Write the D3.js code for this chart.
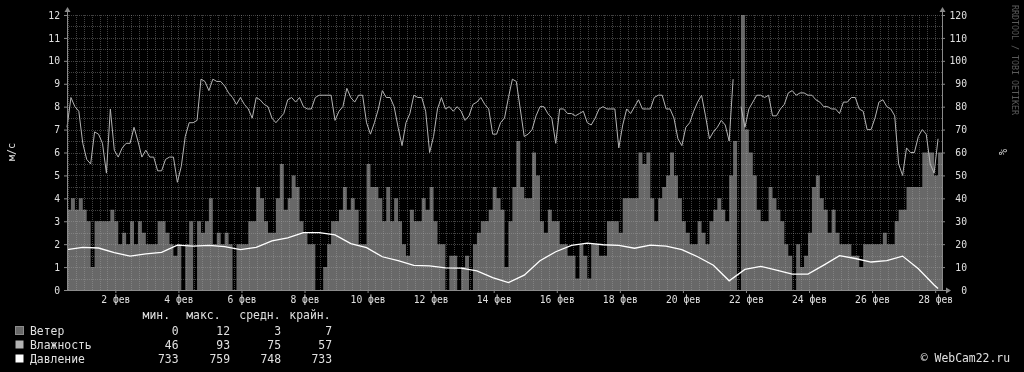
<!DOCTYPE html>
<html>
<head>
<meta charset="utf-8">
<script src="https://cdn.jsdelivr.net/npm/d3@7"></script>
<style>
body { margin: 0; background: #000; }
svg { will-change: transform; }
svg text { font-family: "DejaVu Sans Mono", monospace; }
</style>
</head>
<body>
<svg id="chart" width="1024" height="372"></svg>
<script>
// samples every 3 hours starting 31 jan 11:12
var start = new Date(2013, 0, 31, 11, 12),
	stepH = 3,
	pressureStepH = 12;

// wind, m/s
var wind = [
	3.5, 4, 3.5, 4, 3.5, 3, 1, 3, 3, 3, 3, 3.5, 3, 2, 2.5, 2, 3, 2, 3, 2.5, 2, 2, 2, 3, 3, 2.5, 2, 1.5, 2, 0, 2, 3, 0, 3, 2.5, 3, 4,
	2, 2.5, 2, 2.5, 2, 0, 2, 2, 2, 3, 3, 4.5, 4, 3, 2.5, 2.5, 4, 5.5, 3.5, 4, 5, 4.5, 3, 2.5, 2, 2, 0, 0, 1, 2, 3, 3, 3.5, 4.5, 3.5, 4, 3.5,
	2, 2, 5.5, 4.5, 4.5, 4, 3, 4.5, 3, 4, 3, 2, 1.5, 3.5, 3, 3, 4, 3.5, 4.5, 3, 2, 2, 0, 1.5, 1.5, 0, 1, 1.5, 0, 2, 2.5, 3, 3, 3.5, 4.5, 4, 3.5,
	1, 3, 4.5, 6.5, 4.5, 4, 4, 6, 5, 3, 2.5, 3.5, 3, 3, 2, 2, 1.5, 1.5, 0.5, 2, 1.5, 0.5, 2, 2, 1.5, 1.5, 3, 3, 3, 2.5, 4, 4, 4, 4, 6, 5.5,
	6, 4, 3, 4, 4.5, 5, 6, 5, 4, 3, 2.5, 2, 2, 3, 2.5, 2, 3, 3.5, 4, 3.5, 3, 5, 6.5, 0, 12, 7, 6, 5, 3.5, 3, 3, 4.5, 4, 3.5, 3, 2, 1.5,
	0, 2, 1, 1.5, 2.5, 4.5, 5, 4, 3.5, 2.5, 3.5, 2.5, 2, 2, 2, 1.5, 1.5, 1, 2, 2, 2, 2, 2, 2.5, 2, 2, 3, 3.5, 3.5, 4.5, 4.5, 4.5, 4.5, 6, 6, 6, 5, 6
];

// humidity, %
var humidity = [
	71, 84, 80, 78, 64, 57, 55, 69, 68, 64, 51, 79, 61, 58, 62, 64, 64, 71, 65, 58, 61, 58, 58, 52, 52, 57, 58, 58, 47, 54, 67, 73, 73, 74, 92, 91, 87,
	92, 91, 91, 89, 86, 84, 81, 84, 81, 79, 75, 84, 83, 81, 80, 75, 73, 75, 77, 83, 84, 82, 84, 80, 79, 79, 84, 85, 85, 85, 85, 74, 78, 80, 88, 84, 82,
	85, 85, 73, 68, 73, 79, 87, 84, 84, 80, 71, 63, 73, 77, 85, 84, 84, 78, 60, 67, 79, 84, 79, 80, 78, 80, 78, 74, 76, 81, 82, 84, 81, 79, 68, 68, 73,
	75, 84, 92, 91, 79, 67, 68, 70, 76, 80, 80, 77, 75, 64, 79, 79, 77, 77, 76, 77, 78, 73, 72, 75, 79, 80, 79, 79, 79, 62, 72, 79, 77, 80, 83, 79,
	79, 79, 84, 85, 85, 79, 79, 75, 66, 63, 71, 73, 78, 82, 85, 76, 66, 69, 71, 74, 72, 65, 92, null, 80, 71, 79, 82, 85, 85, 84, 85, 76, 76, 79, 81, 86,
	87, 85, 86, 86, 85, 85, 83, 82, 80, 80, 79, 79, 77, 82, 82, 84, 84, 79, 78, 70, 70, 75, 82, 83, 80, 79, 76, 55, 50, 62, 60, 60, 67, 70, 68, 55, 51, 66
];

// pressure, mm Hg, every 12 hours, and the last reading
var pressure = [
	750.8, 751.8, 751.5, 749.4, 747.8, 748.8, 749.5, 752.8, 752.4, 752.7, 752.1, 750.8, 751.8, 754.8,
	756.1, 758.5, 758.5, 757.5, 753.5, 751.7, 747.5, 745.7, 743.6, 743.3, 742.4, 742.3, 741.0, 738.0,
	735.7, 739.1, 745.7, 749.8, 752.7, 753.7, 753.0, 752.7, 751.4, 752.8, 752.4, 750.8, 747.5, 743.6,
	736.5, 741.7, 743.1, 741.4, 739.6, 739.6, 743.7, 748.0, 746.7, 745.1, 745.7, 747.8, 742.0, 734.6
];
var pressureLast = 733.0;

var tickDays = [2, 4, 6, 8, 10, 12, 14, 16, 18, 20, 22, 24, 26, 28];
var seriesNames = ["Ветер", "Влажность", "Давление"];
var statNames = ["мин.", "макс.", "средн.", "крайн."];
var stats = [
	["0", "12", "3", "7"],
	["46", "93", "75", "57"],
	["733", "759", "748", "733"]
];

var hour = 3600 * 1000;
function at(h) { return new Date(start.getTime() + h * hour); }
var end = at(wind.length * stepH);

var svg = d3.select("#chart");
var plotL = 67, plotR = 942, plotT = 15, plotB = 290;

var x = d3.scaleTime().domain([start, end]).range([plotL, plotR]);
var y = d3.scaleLinear().domain([0, 12]).range([plotB, plotT]);
var yHum = d3.scaleLinear().domain([0, 120]).range([plotB, plotT]);
var pScale = d3.scaleLinear().domain([732.3, 758.5]).range([0, 2.5]);

var windPts = wind.map(function(v, i) { return {t: at(i * stepH), v: v}; });
windPts.push({t: end, v: wind[wind.length - 1]});
var humPts = humidity.map(function(v, i) { return {t: at(i * stepH), v: v}; });
var presPts = pressure.map(function(v, i) { return {t: at(i * pressureStepH), v: v}; });
presPts.push({t: at((wind.length - 1) * stepH), v: pressureLast});

var colors = ["#686868", "#b4b4b4", "#ffffff"];

// wind area
svg.append("path")
	.datum(windPts)
	.attr("fill", colors[0])
	.attr("d", d3.area()
		.curve(d3.curveStepAfter)
		.x(function(d) { return x(d.t); })
		.y0(plotB)
		.y1(function(d) { return y(d.v); }));

// grid
var grid = svg.append("g")
	.attr("stroke", "rgba(170,170,170,0.38)")
	.attr("stroke-dasharray", "1,1")
	.attr("shape-rendering", "crispEdges");
grid.selectAll(".h")
	.data(d3.range(0.5, 12.01, 0.5))
	.enter().append("line")
	.attr("x1", plotL).attr("x2", plotR)
	.attr("y1", function(d) { return Math.round(y(d)) + 0.5; })
	.attr("y2", function(d) { return Math.round(y(d)) + 0.5; });
grid.selectAll(".v")
	.data(d3.timeHour.every(6).range(start, end).filter(function(d) { return x(d) > plotL + 1; }))
	.enter().append("line")
	.attr("y1", plotT).attr("y2", plotB)
	.attr("x1", function(d) { return Math.round(x(d)) + 0.5; })
	.attr("x2", function(d) { return Math.round(x(d)) + 0.5; });

// humidity line
svg.append("path")
	.datum(humPts)
	.attr("fill", "none")
	.attr("stroke", colors[1])
	.attr("stroke-width", 1)
	.attr("d", d3.line()
		.defined(function(d) { return d.v != null; })
		.x(function(d) { return x(d.t); })
		.y(function(d) { return yHum(d.v); }));

// pressure line
svg.append("path")
	.datum(presPts)
	.attr("fill", "none")
	.attr("stroke", colors[2])
	.attr("stroke-width", 1.3)
	.attr("d", d3.line()
		.x(function(d) { return x(d.t); })
		.y(function(d) { return y(pScale(d.v)); }));

// axes
function styleAxis(g) {
	g.select(".domain").remove();
	g.selectAll("line").attr("stroke", "#888");
	g.selectAll("text").attr("fill", "#e0e0e0").style("font-size", "9.7px").style("font-family", '"DejaVu Sans Mono", monospace');
}

svg.append("g")
	.attr("transform", "translate(" + plotL + ",0)")
	.call(d3.axisLeft(y).ticks(12).tickSize(3).tickPadding(4).tickFormat(d3.format("d")))
	.call(styleAxis);

svg.append("g")
	.attr("transform", "translate(" + plotR + ",0)")
	.call(d3.axisRight(yHum).ticks(12).tickSize(3).tickPadding(4).tickFormat(d3.format("d")))
	.call(styleAxis)
	.selectAll("text").attr("text-anchor", "end").attr("x", 25);

svg.append("g")
	.attr("transform", "translate(0," + plotB + ")")
	.call(d3.axisBottom(x)
		.tickValues(tickDays.map(function(d) { return new Date(2013, 1, d); }))
		.tickSize(3).tickPadding(3)
		.tickFormat(function(d) { return d.getDate() + " фев"; }))
	.call(styleAxis);

var axisCol = "#8a8a8a";
svg.append("line").attr("x1", plotL + 0.5).attr("x2", plotL + 0.5).attr("y1", plotB).attr("y2", 10).attr("stroke", axisCol);
svg.append("line").attr("x1", plotR + 0.5).attr("x2", plotR + 0.5).attr("y1", plotB).attr("y2", 10).attr("stroke", axisCol);
svg.append("line").attr("x1", plotL).attr("x2", plotR + 5).attr("y1", plotB + 0.5).attr("y2", plotB + 0.5).attr("stroke", axisCol);
function arrow(px, py, dir) {
	var p = dir === "up" ? [[px - 3, py + 5], [px + 3, py + 5], [px, py]]
		: [[px - 5, py - 3], [px - 5, py + 3], [px, py]];
	svg.append("path").attr("d", d3.line()(p) + "Z").attr("fill", axisCol);
}
arrow(plotL + 0.5, 7, "up");
arrow(plotR + 0.5, 7, "up");
arrow(plotR + 9, plotB + 0.5, "right");

// titles
svg.append("text")
	.attr("transform", "translate(15,152) rotate(-90)")
	.attr("text-anchor", "middle")
	.attr("fill", "#e0e0e0").style("font-size", "10px")
	.text("м/с");
svg.append("text")
	.attr("transform", "translate(999,152) rotate(90)")
	.attr("text-anchor", "middle")
	.attr("fill", "#e0e0e0").style("font-size", "10px")
	.text("%");
svg.append("text")
	.attr("transform", "translate(1012,5) rotate(90)")
	.attr("fill", "#5a5a5a").style("font-size", "8.3px")
	.text("RRDTOOL / TOBI OETIKER");

// legend
var statX = [170, 220.5, 280.5, 330.5],
	valX = [178.5, 230, 281, 332];
svg.selectAll(".head")
	.data(statNames)
	.enter().append("text")
	.attr("x", function(d, i) { return statX[i]; })
	.attr("y", 319)
	.attr("text-anchor", "end")
	.attr("fill", "#e0e0e0").style("font-size", "11.4px")
	.text(function(d) { return d; });

var row = svg.selectAll(".row")
	.data(seriesNames)
	.enter().append("g")
	.attr("transform", function(d, i) { return "translate(0," + (335 + i * 14) + ")"; });
row.append("rect")
	.attr("x", 15.5).attr("y", -8.5).attr("width", 8).attr("height", 8)
	.attr("fill", function(d, i) { return colors[i]; })
	.attr("stroke", function(d, i) { return i === 0 ? "#8c8c8c" : "none"; });
row.append("text")
	.attr("x", 30)
	.attr("fill", "#e0e0e0").style("font-size", "11.4px")
	.text(function(d) { return d; });
row.selectAll(".val")
	.data(function(d, i) { return stats[i]; })
	.enter().append("text")
	.attr("x", function(d, j) { return valX[j]; })
	.attr("text-anchor", "end")
	.attr("fill", "#e0e0e0").style("font-size", "11.4px")
	.text(function(d) { return d; });

svg.append("text")
	.attr("x", 1010).attr("y", 362)
	.attr("text-anchor", "end")
	.attr("fill", "#e0e0e0").style("font-size", "11.4px")
	.text("© WebCam22.ru");
</script>
</body>
</html>
